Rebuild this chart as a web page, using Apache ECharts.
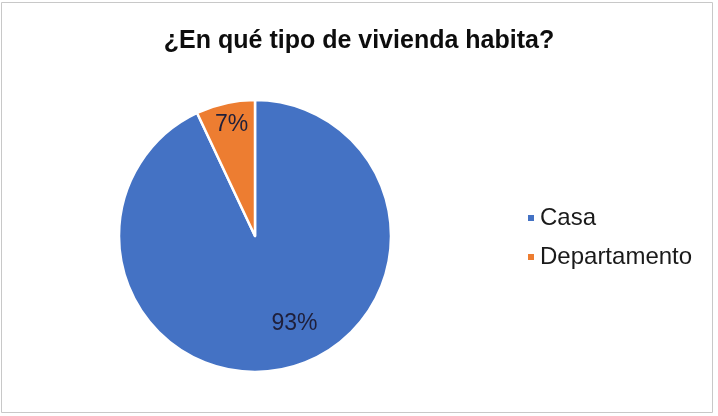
<!DOCTYPE html>
<html>
<head>
<meta charset="utf-8">
<script src="https://cdn.jsdelivr.net/npm/echarts@6/dist/echarts.min.js"></script>
<style>
html,body{margin:0;padding:0;background:#fff;}
#chart{width:718px;height:416px;}
</style>
</head>
<body>
<div id="chart"></div>
<script>
const titleText = "¿En qué tipo de vivienda habita?";
const categories = ["Casa", "Departamento"];
const values = [93, 7];
const colors = ["#4472C4", "#ED7D31"];
const labelOffsets = [[24, 18], [-8, -42]];

const chart = echarts.init(document.getElementById('chart'), null, {renderer: 'canvas'});
const FONT = 'Arial, "Liberation Sans", sans-serif';
chart.setOption({
  animation: false,
  backgroundColor: '#fff',
  title: {
    text: titleText,
    left: 'center',
    top: 24,
    textStyle: {fontFamily: FONT, fontSize: 25, fontWeight: 'bold', color: '#0d0d0d'}
  },
  legend: {
    orient: 'vertical',
    left: 526,
    top: 206,
    padding: 0,
    icon: 'rect',
    itemWidth: 8,
    itemHeight: 8,
    itemGap: 15,
    data: categories,
    textStyle: {fontFamily: FONT, fontSize: 24, color: '#1a1a1a', lineHeight: 24}
  },
  graphic: [{
    type: 'rect',
    shape: {x: 1.5, y: 2.5, width: 711, height: 410},
    style: {fill: 'none', stroke: '#c8c8c8', lineWidth: 1},
    silent: true
  }],
  series: [{
    type: 'pie',
    center: [255, 236],
    radius: 136,
    startAngle: 90,
    clockwise: true,
    data: categories.map((c, i) => ({
      name: c,
      value: values[i],
      itemStyle: {color: colors[i]},
      label: {offset: labelOffsets[i]}
    })),
    itemStyle: {borderColor: '#fff', borderWidth: 2.5},
    label: {
      show: true,
      position: 'inside',
      formatter: p => p.value + '%',
      fontFamily: FONT,
      fontSize: 23,
      color: '#1f1f3a'
    },
    labelLine: {show: false},
    emphasis: {disabled: true}
  }]
});
</script>
</body>
</html>
